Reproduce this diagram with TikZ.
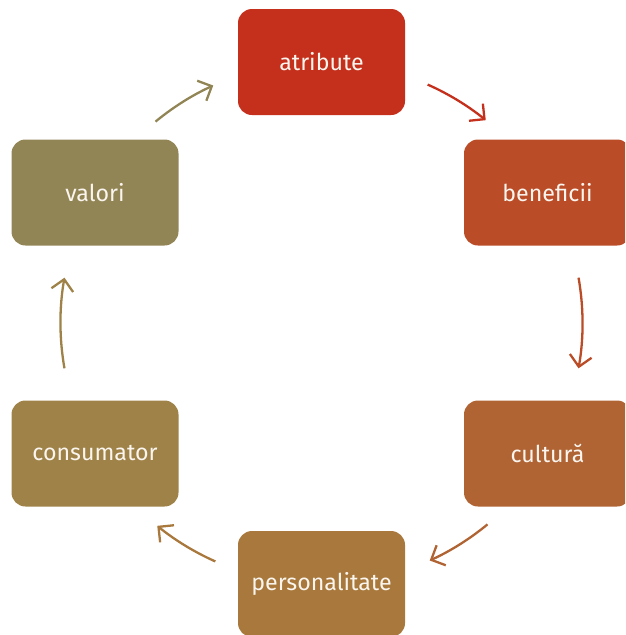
\documentclass[tikz,border=0pt]{standalone}
\usepackage{fontspec}
\setmainfont{Fira Sans}
\usetikzlibrary{arrows.meta}
\definecolor{cA}{RGB}{196,48,28}
\definecolor{cB}{RGB}{186,76,40}
\definecolor{cC}{RGB}{176,100,52}
\definecolor{cD}{RGB}{168,120,60}
\definecolor{cE}{RGB}{158,130,72}
\definecolor{cF}{RGB}{146,133,85}
\definecolor{txt}{RGB}{250,245,238}
\tikzset{
  box/.style={rounded corners=14pt, minimum width=167pt, minimum height=106pt, inner sep=0pt,
    text=txt, font=\fontsize{23.2}{27}\selectfont},
  arr/.style={line width=2.3pt, -{Straight Barb[length=11pt,width=22pt,line width=2.3pt]}}
}
\begin{document}
\begin{tikzpicture}[x=1pt,y=-1pt]
\useasboundingbox (0,0) rectangle (625,635);
\begin{scope}
\clip (0,0) rectangle (625,635);
\node[box, fill=cA] (atr) at (321.5,62) {atribute};
\node[box, fill=cB] (ben) at (547.5,192.5) {beneficii};
\node[box, fill=cC] (cul) at (547.5,453.5) {cultură};
\node[box, fill=cD] (per) at (321.5,584) {personalitate};
\node[box, fill=cE] (con) at (95,453.5) {consumator};
\node[box, fill=cF] (val) at (95,192.5) {valori};
\end{scope}
\coordinate (c) at (321.5,323);
\draw[arr, cA] ([shift={(-66:261)}]c) arc[start angle=-66, end angle=-51, radius=261];
\draw[arr, cB] ([shift={(-10:261)}]c) arc[start angle=-10, end angle=10, radius=261];
\draw[arr, cC] ([shift={(50.5:261)}]c) arc[start angle=50.5, end angle=65.5, radius=261];
\draw[arr, cD] ([shift={(114:261)}]c) arc[start angle=114, end angle=129, radius=261];
\draw[arr, cE] ([shift={(170:261)}]c) arc[start angle=170, end angle=190, radius=261];
\draw[arr, cF] ([shift={(-129.5:261)}]c) arc[start angle=-129.5, end angle=-114.5, radius=261];
\end{tikzpicture}
\end{document}
